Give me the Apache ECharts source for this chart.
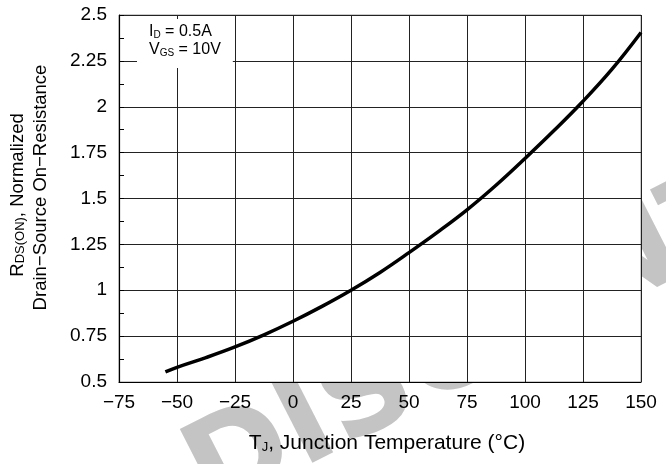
<!DOCTYPE html>
<html>
<head>
<meta charset="utf-8">
<script src="https://cdn.jsdelivr.net/npm/echarts@6/dist/echarts.min.js"></script>
<style>
  html, body { margin: 0; padding: 0; background: #fff; }
  #chart { width: 666px; height: 464px; }
</style>
</head>
<body>
<div id="chart"></div>
<script>
// Junction temperature (°C) and normalized on-resistance
const tempC   = [-55, -50, -37.5, -25, -12.5, 0, 12.5, 25, 37.5, 50, 62.5, 75, 87.5, 100, 112.5, 125, 137.5, 150];
const rdsNorm = [0.555, 0.58, 0.633, 0.691, 0.757, 0.831, 0.912, 1.0, 1.097, 1.205, 1.318, 1.438, 1.572, 1.718, 1.87, 2.03, 2.205, 2.405];

// Axis ranges and tick steps
const xMin = -75, xMax = 150, xStep = 25;
const yMin = 0.5, yMax = 2.5, yStep = 0.25;

// Test conditions shown in the corner box
const condId = '0.5A';
const condVgs = '10V';

const FONT = '"Liberation Sans", Arial, Helvetica, sans-serif';

const chart = echarts.init(document.getElementById('chart'), null, { renderer: 'canvas' });

const fmtNum = v => String(v).replace('-', '\u2212');

chart.setOption({
  animation: false,
  backgroundColor: '#fff',
  textStyle: { fontFamily: FONT, color: '#000' },
  // faint "DISCONTINUED" stamp behind the plot
  graphic: [{
    type: 'text',
    z: -10,
    silent: true,
    x: 196, y: 486,
    rotation: 27 * Math.PI / 180,
    style: {
      text: 'DISCONTINUED',
      font: 'bold 124px "DejaVu Sans", sans-serif',
      fill: '#c4c4c4',
      textAlign: 'left',
      textVerticalAlign: 'middle'
    }
  }],
  title: {
    left: 137,
    top: 17,
    backgroundColor: '#fff',
    padding: [5, 12, 10, 12],
    text: '{n|I}{s|D}{n| = ' + condId + '}\n{n|V}{s|GS}{n| = ' + condVgs + '}',
    textStyle: {
      fontFamily: FONT,
      fontWeight: 'normal',
      rich: {
        n: { fontSize: 16, lineHeight: 18, color: '#000', fontWeight: 'normal', fontFamily: FONT, verticalAlign: 'bottom' },
        s: { fontSize: 10, lineHeight: 11, color: '#000', fontWeight: 'normal', fontFamily: FONT, verticalAlign: 'bottom' }
      }
    }
  },
  grid: {
    left: 119, right: 25, top: 15, bottom: 82,
    containLabel: false,
    outerBoundsMode: 'none',
    show: true, borderColor: '#999', borderWidth: 1, backgroundColor: '#fff'
  },
  xAxis: {
    type: 'value',
    min: xMin, max: xMax, interval: xStep,
    axisLine: { show: true, onZero: false, lineStyle: { color: '#000', width: 1.2 } },
    axisTick: { show: false },
    splitLine: { show: true, lineStyle: { color: '#222', width: 1 } },
    axisLabel: { fontSize: 19, color: '#000', margin: 11, fontFamily: FONT, formatter: fmtNum },
    name: '{n|T}{s|J}{n|, Junction Temperature (°C)}',
    nameLocation: 'middle',
    nameGap: 48,
    nameTextStyle: {
      padding: [0, 0, 0, 14],
      rich: {
        n: { fontSize: 21, lineHeight: 24, color: '#000', fontFamily: FONT, verticalAlign: 'bottom' },
        s: { fontSize: 13, lineHeight: 15, color: '#000', fontFamily: FONT, verticalAlign: 'bottom' }
      }
    }
  },
  yAxis: {
    type: 'value',
    min: yMin, max: yMax, interval: yStep,
    axisLine: { show: true, onZero: false, lineStyle: { color: '#000', width: 1.2 } },
    axisTick: { show: true, inside: true, length: 5, lineStyle: { color: '#000' } },
    minorTick: { show: true, splitNumber: 2, length: 5, lineStyle: { color: '#000' } },
    splitLine: { show: true, lineStyle: { color: '#222', width: 1 } },
    axisLabel: { fontSize: 19, color: '#000', margin: 12, fontFamily: FONT, formatter: v => String(v) },
    name: '{n|R}{s|DS(ON)}{p|, Normalized}\n{n|Drain\u2212Source On\u2212Resistance}',
    nameLocation: 'middle',
    nameRotate: 90,
    nameGap: 69,
    nameTextStyle: {
      padding: [0, 0, 0, 22],
      rich: {
        n: { fontSize: 18.5, lineHeight: 23, color: '#000', fontFamily: FONT, verticalAlign: 'bottom' },
        p: { fontSize: 18.5, lineHeight: 23, color: '#000', fontFamily: FONT, verticalAlign: 'bottom', padding: [0, 15, 0, 0] },
        s: { fontSize: 13, lineHeight: 15, color: '#000', fontFamily: FONT, verticalAlign: 'bottom' }
      }
    }
  },
  series: [{
    type: 'line',
    data: tempC.map((t, i) => [t, rdsNorm[i]]),
    smooth: 0.4,
    showSymbol: false,
    lineStyle: { color: '#000', width: 3.5 },
    z: 5
  }]
});
</script>
</body>
</html>
